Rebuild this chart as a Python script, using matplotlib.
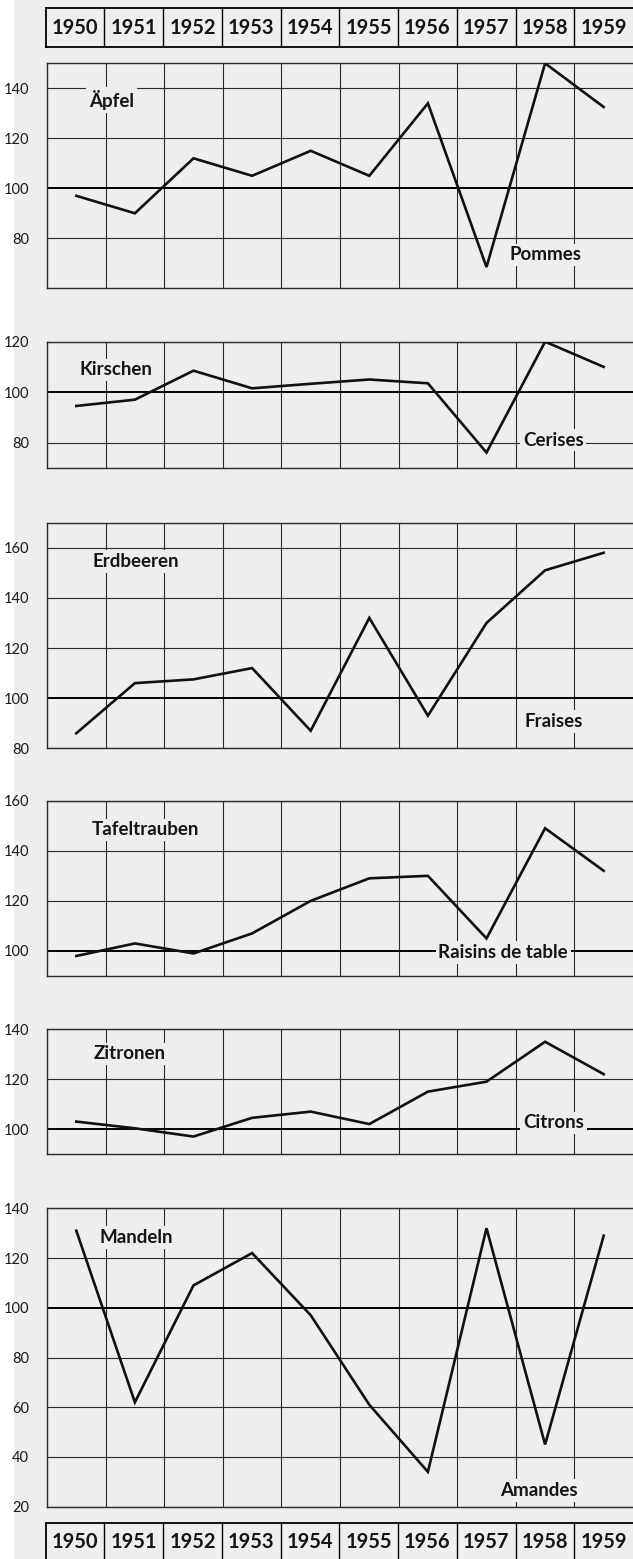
import matplotlib
matplotlib.use('Agg')
import matplotlib.pyplot as plt
from matplotlib.patches import Rectangle

plt.rcParams['font.family'] = ['Lato', 'DejaVu Sans']

# index values (1950..1959)
years = [1950, 1951, 1952, 1953, 1954, 1955, 1956, 1957, 1958, 1959]
aepfel = [97, 90, 112, 105, 115, 105, 134, 68.5, 150, 132.5]
kirschen = [94.5, 97, 108.5, 101.5, 103.3, 105, 103.5, 76, 120, 110]
erdbeeren = [86, 106, 107.5, 112, 87, 132, 93, 130, 151, 158]
tafeltrauben = [98, 103, 99, 107, 120, 129, 130, 105, 149, 132]
zitronen = [103, 100.3, 97, 104.5, 107, 102, 115, 119, 135, 122]
mandeln = [131, 62, 109, 122, 97, 61, 34, 132, 45, 129]

names_de = ['Äpfel', 'Kirschen', 'Erdbeeren', 'Tafeltrauben', 'Zitronen', 'Mandeln']
names_fr = ['Pommes', 'Cerises', 'Fraises', 'Raisins de table', 'Citrons', 'Amandes']
series = [aepfel, kirschen, erdbeeren, tafeltrauben, zitronen, mandeln]
ylims = [(60, 150), (70, 120), (80, 170), (90, 160), (90, 140), (20, 140)]
yticks = [
  [80, 100, 120, 140],
  [80, 100, 120],
  [80, 100, 120, 140, 160],
  [100, 120, 140, 160],
  [100, 120, 140],
  [20, 40, 60, 80, 100, 120, 140],
]

# layout (pixels from top of the 633x1559 image)
W, H = 633.0, 1559.0
bg = '#eeeeee'
left_px, width_px = 47, 586
panel_px = [(63.3, 288.3), (341.7, 467.7), (522.7, 748.3),
            (800.7, 976.0), (1029.3, 1154.0), (1208.3, 1506.7)]
de_pos = [(0.072, 0.837), (0.055, 0.776), (0.077, 0.827),
          (0.077, 0.833), (0.080, 0.802), (0.090, 0.903)]
fr_pos = [(0.790, 0.148), (0.812, 0.219), (0.814, 0.118),
          (0.668, 0.133), (0.812, 0.250), (0.774, 0.054)]

fig = plt.figure(figsize=(W / 100, H / 100), dpi=100, facecolor=bg)
# pale strip on the left edge of the scan, kept behind everything
strip = fig.add_axes([0, 0, 14 / W, 1], zorder=-10)
strip.set_facecolor('white')
strip.axis('off')
strip.add_patch(Rectangle((0, 0), 1, 1, transform=strip.transAxes,
                          facecolor='white', edgecolor='none'))

grid_col = '#2a2a2a'


def year_header(top_px, bottom_px):
  ax = fig.add_axes([45.7 / W, 1 - bottom_px / H, width_px / W + 1.3 / W,
                     (bottom_px - top_px) / H])
  ax.set_facecolor(bg)
  ax.set_xlim(1949.5, 1959.5)
  ax.set_ylim(0, 1)
  for s in ['left', 'top', 'bottom']:
    ax.spines[s].set_linewidth(1.3)
    ax.spines[s].set_color('black')
  ax.spines['right'].set_visible(False)
  for y in years[:-1]:
    ax.axvline(y + 0.5, color='black', lw=1.0)
  for y in years:
    ax.text(y, 0.5, str(y), ha='center', va='center', fontsize=14.5,
            fontweight='bold', color='#151515')
  ax.set_xticks([])
  ax.set_yticks([])
  return ax


year_header(8.3, 46.7)

for i in range(len(series)):
  top, bottom = panel_px[i]
  ax = fig.add_axes([left_px / W, 1 - bottom / H, width_px / W, (bottom - top) / H])
  ax.set_facecolor(bg)
  ax.set_xlim(1949.5, 1959.5)
  ax.set_ylim(*ylims[i])
  ax.set_yticks(yticks[i])
  ax.set_xticks([])
  ax.tick_params(axis='y', length=0, pad=13, labelsize=10.5, labelcolor='#1a1a1a')
  for s in ['left', 'top', 'bottom']:
    ax.spines[s].set_linewidth(1.0)
    ax.spines[s].set_color(grid_col)
  ax.spines['right'].set_visible(False)

  # grid
  for y in years[:-1]:
    ax.axvline(y + 0.5, color=grid_col, lw=0.8, zorder=1)
  for t in yticks[i]:
    if t == 100:
      ax.axhline(t, color='black', lw=1.4, zorder=2)
    else:
      ax.axhline(t, color=grid_col, lw=0.8, zorder=1)

  ax.plot(years, series[i], color='#111111', lw=1.9, zorder=3,
          solid_joinstyle='miter')

  box = dict(facecolor=bg, edgecolor='none', pad=2.0)
  ax.text(de_pos[i][0], de_pos[i][1], names_de[i], transform=ax.transAxes,
          ha='left', va='center', fontsize=13.5, fontweight='bold',
          color='#151515', bbox=box, zorder=5)
  ax.text(fr_pos[i][0], fr_pos[i][1], names_fr[i], transform=ax.transAxes,
          ha='left', va='center', fontsize=13.5, fontweight='bold',
          color='#151515', bbox=box, zorder=5)

year_header(1523.0, 1561.0)

plt.savefig('out.png', dpi=100, facecolor=bg)
